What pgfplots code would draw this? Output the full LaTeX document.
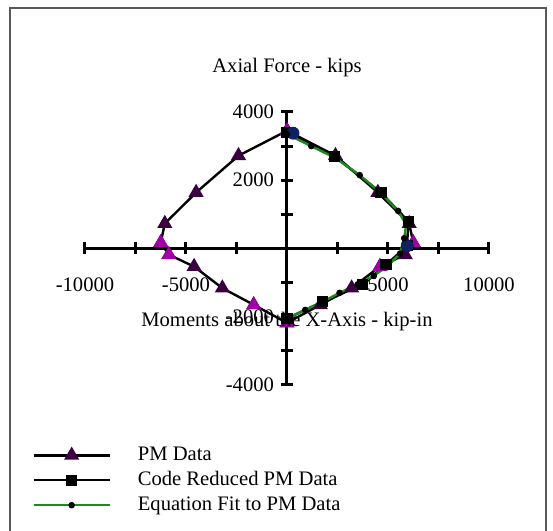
\documentclass[border=0pt]{standalone}
\usepackage{fontspec}
\setmainfont{Liberation Serif}
\usepackage{pgfplots}
\pgfplotsset{compat=1.18}
\definecolor{pmpurple}{HTML}{3A0040}
\definecolor{pmmagenta}{HTML}{A000A8}
\definecolor{navyb}{HTML}{102060}
\definecolor{fitgreen}{HTML}{1E8A1E}

\pgfplotstableread{
x y
0 3450
-2400 2720
-4500 1640
-6050 730
-6250 170
-5850 -180
-4600 -530
-3200 -1160
-1650 -1650
0 -2180
1650 -1650
3200 -1160
4600 -530
5850 -180
6250 170
6050 730
4500 1640
2400 2720
0 3450
}\pmdata

\pgfplotstableread{
x y
0 3400
2350 2700
4650 1640
6000 800
5950 80
4900 -480
3750 -1060
1770 -1560
0 -2050
}\codered

\pgfplotstableread{
x y
0 3350
1200 3000
2400 2650
3600 2150
4700 1600
5500 1100
5900 700
5800 300
5600 -150
5000 -500
4300 -800
3500 -1050
2600 -1300
1800 -1550
900 -1800
0 -2050
}\eqfit

\begin{document}
\begin{tikzpicture}[font=\fontsize{10.3}{12}\selectfont]
\useasboundingbox (0,0) rectangle (276.5pt,265.5pt);
\draw[line width=1.3pt, black!65] (5pt,-2pt) -- (5pt,261.5pt) -- (273pt,261.5pt) -- (273pt,-2pt);
\begin{axis}[
  at={(42.5pt,73pt)}, anchor=south west,
  scale only axis, width=202pt, height=136.5pt,
  xmin=-10000, xmax=10000, ymin=-4000, ymax=4000,
  clip=false,
  axis lines=middle,
  axis line style={line width=1.5pt, -},
  tick align=center, major tick length=6pt,
  tick style={line width=1.5pt, black},
  scaled x ticks=false, scaled y ticks=false,
  xtick={-10000,-7500,...,10000},
  xticklabels={-10000,,-5000,,,,5000,,10000},
  ytick={-4000,-3000,...,4000},
  yticklabels={-4000,,-2000,,,,2000,,4000},
  xticklabel style={yshift=-8pt},
  title={Axial Force - kips},
  title style={at={(axis description cs:0.5,1)}, anchor=base, yshift=14pt},
  xlabel={Moments about the X-Axis - kip-in},
  xlabel style={at={(axis description cs:0.5,0.5)}, anchor=base, yshift=-39pt},
  legend image code/.code={\draw[mark repeat=2,mark phase=2,#1] plot coordinates {(0pt,0pt) (19pt,0pt) (38pt,0pt)};},
  legend style={at={(axis description cs:-0.131,-0.215)}, anchor=north west,
    draw=none, fill=none, inner sep=0pt, row sep=1pt, column sep=13.5pt,
    nodes={inner ysep=1.5pt, inner xsep=0pt, anchor=west}},
  legend cell align=left,
]
\addplot[black, line width=1.2pt, mark=triangle*, mark size=3.2pt,
  mark options={fill=pmpurple, draw=pmpurple}] table {\pmdata};
\addlegendentry{PM Data}
\addplot[only marks, forget plot, mark=triangle*, mark size=3.8pt,
  mark options={fill=pmmagenta, draw=pmmagenta}] coordinates {
  (0,3450) (-6250,170) (-5850,-180) (-1650,-1650) (0,-2180) (6250,170) (4600,-530)};
\addplot[black, line width=1.2pt, mark=square*, mark size=2.2pt,
  mark options={fill=black}] table {\codered};
\addlegendentry{Code Reduced PM Data}
\addplot[only marks, forget plot, mark=*, mark size=3pt,
  mark options={fill=navyb, draw=navyb}] coordinates {(300,3380) (5950,80)};
\addplot[fitgreen, line width=1.2pt, mark=*, mark size=1pt,
  mark options={fill=black, draw=black}] table {\eqfit};
\addlegendentry{Equation Fit to PM Data}
\end{axis}
\end{tikzpicture}
\end{document}
